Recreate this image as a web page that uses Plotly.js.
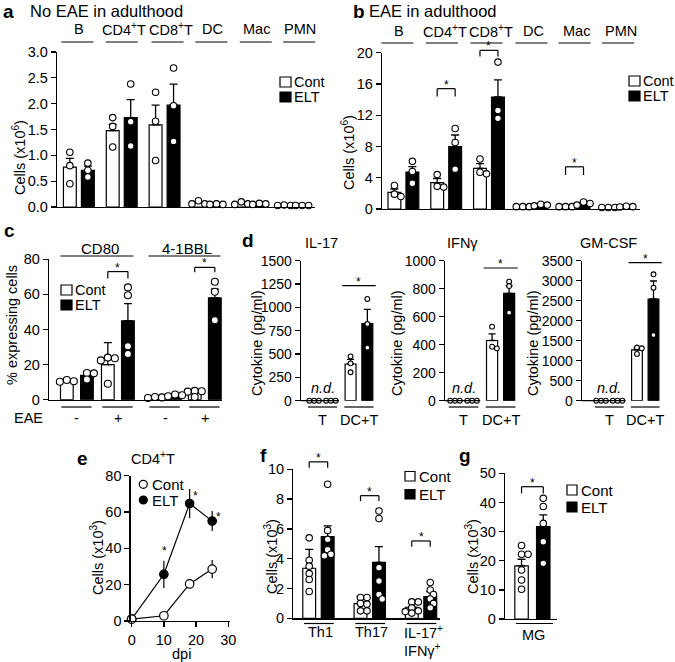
<!DOCTYPE html>
<html><head><meta charset="utf-8">
<script src="https://cdn.plot.ly/plotly-3.0.1.min.js"></script>
<style>html,body{margin:0;padding:0;background:#fff}#chart{width:675px;height:662px}</style>
</head><body><div id="chart"></div>
<script>
const W=675,H=662;
const FONT='"Liberation Sans", Arial, Helvetica, sans-serif';

// ================= DATA =================
// a: No EAE in adulthood (cells x10^6)
const aGroups=['B','CD4<sup>+</sup>T','CD8<sup>+</sup>T','DC','Mac','PMN'];
const aContMean=[0.77,1.48,1.59,0.08,0.07,0.03];
const aContSem=[0.17,0.12,0.38,0.02,0.015,0.005];
const aContPts=[[1.06,0.80,0.45],[1.73,1.56,1.16],[2.22,1.66,0.90],[0.12,0.06,0.06],[0.10,0.06,0.05],[0.03,0.04,0.03]];
const aEltMean=[0.71,1.73,1.97,0.05,0.06,0.03];
const aEltSem=[0.08,0.35,0.41,0.005,0.005,0.003];
const aEltPts=[[0.85,0.71,0.58],[2.38,1.65,1.18],[2.69,1.96,1.27],[0.06,0.05,0.05],[0.07,0.06,0.05],[0.03,0.03,0.03]];

// b: EAE in adulthood (cells x10^6)
const bGroups=['B','CD4<sup>+</sup>T','CD8<sup>+</sup>T','DC','Mac','PMN'];
const bContMean=[2.13,3.37,5.2,0.3,0.3,0.2];
const bContSem=[0.43,0.53,0.6,0.05,0.05,0.04];
const bContPts=[[3.0,1.9,1.6],[4.4,2.9,2.8],[6.4,4.7,4.5],[0.3,0.3,0.3],[0.3,0.3,0.3],[0.2,0.2,0.2]];
const bEltMean=[4.73,7.97,14.33,0.5,0.7,0.3];
const bEltSem=[0.7,1.5,2.2,0.07,0.1,0.05];
const bEltPts=[[6.1,4.8,3.3],[10.3,8.5,5.1],[18.8,12.6,11.6],[0.6,0.5,0.4],[0.9,0.7,0.5],[0.35,0.3,0.25]];

// c: % expressing cells
const cMarkers=['CD80','4-1BBL'];
const cEAE=['-','+','-','+'];
const cContMean=[10.6,20,1.3,4.0];
const cContSem=[0.4,12.5,0.3,0.6];
const cContPts=[[11.2,10.5,10.2],[24,23.6,22.4,9.1],[1.5,1.3,1.0],[5.0,4.6,4.8,1.5]];
const cEltMean=[13.9,45,2.5,58];
const cEltSem=[2.1,9.8,0.4,5];
const cEltPts=[[15.2,15.0,11.5],[64,59.5,30.5,26],[3.0,2.5,2.0],[67.2,61.5,45.3]];

// d: cytokines (pg/ml); groups T (n.d.) and DC+T
const dGroups=['T','DC+T'];
const dTitles=['IL-17','IFNγ','GM-CSF'];
const il17ContMean=[null,393], il17ContSem=[null,49], il17ContPts=[[0,0,0],[475,400,305]];
const il17EltMean=[null,827],  il17EltSem=[null,152], il17EltPts=[[0,0,0],[1090,822,568]];
const ifngContMean=[null,430], ifngContSem=[null,47], ifngContPts=[[0,0,0],[529,386,374]];
const ifngEltMean=[null,766],  ifngEltSem=[null,55],  ifngEltPts=[[0,0,0],[850,819,629]];
const gmcsfContMean=[null,1270], gmcsfContSem=[null,50],  gmcsfContPts=[[0,0,0],[1330,1310,1170]];
const gmcsfEltMean=[null,2543],  gmcsfEltSem=[null,450], gmcsfEltPts=[[0,0,0],[3160,2825,1643]];

// e: CD4+T time course (cells x10^3)
const eDays=[0,10,18,25];
const eCont=[1,2.9,20.4,28.6];
const eContErr=[0.5,0.8,1.0,5];
const eElt=[1,25.7,64.7,55];
const eEltErr=[0.5,7.5,8,5.5];

// f: Th subsets (cells x10^3)
const fGroups=['Th1','Th17','IL-17<sup>+</sup>'];
const fContMean=[3.36,0.98,0.74], fContSem=[1.27,0.47,0.26];
const fContPts=[[5.4,3.9,3.5,3.0,2.6,1.8],[1.4,1.4,1.0,0.95,0.5,0.5],[1.1,1.1,0.7,0.5,0.45,0.35]];
const fEltMean=[5.48,3.76,1.46], fEltSem=[0.72,1.05,0.33];
const fEltPts=[[9.0,5.9,5.3,4.6,4.3,4.2],[7.2,6.7,3.4,2.5,1.6,1.3],[2.4,1.9,1.6,1.3,1.0,0.7]];

// g: MG (cells x10^3)
const gGroups=['MG'];
const gContMean=[18.2], gContSem=[2.3], gContPts=[[25.2,22.2,22.2,16.8,13.4,10.2]];
const gEltMean=[31.7], gEltSem=[4.0], gEltPts=[[41.4,38.6,32.8,26.5,19.1]];

// ================= LAYOUT GEOMETRY =================
const PA={id:'',L:57,R:315,T:52,B:207,xr:[-0.51,5.51],yr:[0,3]};
const PB={id:'2',L:382,R:640,T:52.7,B:209,xr:[-0.5,5.53],yr:[0,20]};
const PC={id:'3',L:49,R:222,T:259.3,B:399.7,xr:[-0.68,3.54],yr:[0,80]};
const PD1={id:'4',L:301,R:379,T:260.7,B:400.7,xr:[-0.59,1.55],yr:[0,1500]};
const PD2={id:'5',L:445,R:521,T:260.7,B:400.7,xr:[-0.5,1.55],yr:[0,1000]};
const PD3={id:'6',L:582,R:665,T:260.7,B:400.7,xr:[-0.76,1.55],yr:[0,3500]};
const PE={id:'7',L:130.7,R:229.9,T:475.7,B:621,xr:[-0.3,30.5],yr:[0,80]};
const PF={id:'8',L:293.3,R:440,T:469.3,B:618.3,xr:[-0.49,2.37],yr:[0,10]};
const PG={id:'9',L:505,R:556.7,T:473.3,B:619,xr:[-0.53,0.47],yr:[0,50]};
// header label / line pixel shifts (layout only)
const aLabShift=[0,2,6.5,5.5,6.5,7], aLineShift=[-1.5,0,3,4,5.5,6];
const bLabShift=[-4.5,-1.5,2,2,2,3.5], bLineShift=[-6,-4.3,-2.5,-0.3,0,0.8];

const traces=[],shapes=[],annotations=[];
const layout={width:W,height:H,margin:{l:0,r:0,t:0,b:0},showlegend:false,barmode:'overlay',
  paper_bgcolor:'white',plot_bgcolor:'rgba(0,0,0,0)',font:{family:FONT,size:14,color:'black'},
  shapes,annotations};

function xp(P,v){return P.L+(v-P.xr[0])/(P.xr[1]-P.xr[0])*(P.R-P.L);}
function yp(P,v){return P.B-(v-P.yr[0])/(P.yr[1]-P.yr[0])*(P.B-P.T);}
function T(x,y,text,size,xanchor,extra){annotations.push(Object.assign({xref:'paper',yref:'paper',x:x/W,y:1-y/H,text:text,showarrow:false,
  xanchor:xanchor||'center',yanchor:'middle',borderpad:0,font:{family:FONT,size:size||14,color:'black'}},extra||{}));}
function L(x0,y0,x1,y1,w){shapes.push({type:'line',xref:'paper',yref:'paper',x0:x0/W,y0:1-y0/H,x1:x1/W,y1:1-y1/H,line:{color:'black',width:w||1.2}});}
function R(x0,y0,x1,y1,fill){shapes.push({type:'rect',xref:'paper',yref:'paper',x0:x0/W,y0:1-y0/H,x1:x1/W,y1:1-y1/H,fillcolor:fill,line:{color:'black',width:1.2}});}
function seq(a,b,s){const o=[];for(let v=a;v<=b+1e-9;v+=s)o.push(+v.toFixed(6));return o;}

function axes(P,o){
  const s=P.id;
  layout['xaxis'+s]={domain:[P.L/W,P.R/W],range:P.xr,anchor:'y'+s,showgrid:false,zeroline:false,
    showline:o.xline!==false,linecolor:'black',linewidth:1.3,ticks:o.xticks?'outside':'',ticklen:5,tickwidth:1.3,tickcolor:'black',
    showticklabels:!!o.xticks,tickmode:o.xticks?'array':'auto',tickvals:o.xticks,tickfont:{family:FONT,size:14.5,color:'black'},fixedrange:true};
  layout['yaxis'+s]={domain:[1-P.B/H,1-P.T/H],range:P.yr,anchor:'x'+s,showgrid:false,zeroline:false,showline:true,
    linecolor:'black',linewidth:1.3,ticks:'outside',ticklen:5,tickwidth:1.3,tickcolor:'black',tickmode:'array',
    tickvals:o.yticks,ticktext:o.ytext,tickfont:{family:FONT,size:o.tfs||14.5,color:'black'},fixedrange:true};
}

// beeswarm placement in pixel space (deterministic, from the values)
function swarm(P,vals,d){
  const ppuY=(P.B-P.T)/(P.yr[1]-P.yr[0]), ppuX=(P.R-P.L)/(P.xr[1]-P.xr[0]);
  const order=vals.map((v,i)=>i).sort((a,b)=>vals[b]-vals[a]);
  const out=vals.map(()=>0), placed=[];
  const cands=[0];for(let k=1;k<=10;k++){cands.push(k*d*0.5,-k*d*0.5);}
  order.forEach(i=>{
    const y=vals[i]*ppuY;
    for(const c of cands){
      if(placed.every(p=>Math.hypot(p.x-c,p.y-y)>=d*0.8)){out[i]=c/ppuX;placed.push({x:c,y:y});break;}
    }
  });
  return out;
}

function bars(P,pos,off,w,mean,sem,pts,fill,ms,cap){
  const s=P.id, xs=pos.map(v=>v+off);
  traces.push({type:'bar',x:xs,y:mean,width:w,xaxis:'x'+s,yaxis:'y'+s,hoverinfo:'skip',
    marker:{color:fill,line:{color:'black',width:1.2}},
    error_y:{type:'data',array:sem,arrayminus:sem.map(()=>0),symmetric:false,color:'black',thickness:1.3,width:cap||4}});
  const px=[],py=[];
  pts.forEach((arr,i)=>{const j=swarm(P,arr,ms);arr.forEach((v,k)=>{px.push(xs[i]+j[k]);py.push(v);});});
  traces.push({type:'scatter',mode:'markers',x:px,y:py,xaxis:'x'+s,yaxis:'y'+s,cliponaxis:false,hoverinfo:'skip',
    marker:{size:ms,color:'white',line:{color:'black',width:1.1}}});
}
function bracket(P,xa,xb,top,end){
  const x0=xp(P,xa),x1=xp(P,xb),yt=yp(P,top),ye=yp(P,end);
  L(x0,ye,x0,yt);L(x0,yt,x1,yt);L(x1,yt,x1,ye);
  T((x0+x1)/2,yt-4,'*',12);
}
function legendBoxes(x,y1,y2,size){
  R(x,y1-5,x+11,y1+5,'white');R(x,y2-5,x+11,y2+5,'black');
  T(x+13,y1,'Cont',size||14.5,'left');T(x+13,y2,'ELT',size||14.5,'left');
}

// ================= PANEL a =================
const aPos=aGroups.map((g,i)=>i);
axes(PA,{yticks:seq(0,3,0.5),ytext:seq(0,3,0.5).map(v=>v.toFixed(1))});
bars(PA,aPos,-0.21,0.3,aContMean,aContSem,aContPts,'white',6.5);
bars(PA,aPos,0.21,0.3,aEltMean,aEltSem,aEltPts,'black',6.5);
aGroups.forEach((g,i)=>{T(xp(PA,i)+aLabShift[i],29,g,14.5);L(xp(PA,i)+aLineShift[i]-16,42,xp(PA,i)+aLineShift[i]+16,42);});
T(2,11,'<b>a</b>',19,'left');T(29,11,'No EAE in adulthood',16.5,'left');
T(19,158,'Cells (x10<sup>6</sup>)',14.5,'center',{textangle:-90});
legendBoxes(280,82,97);

// ================= PANEL b =================
const bPos=bGroups.map((g,i)=>i);
axes(PB,{yticks:seq(0,20,4)});
bars(PB,bPos,-0.21,0.3,bContMean,bContSem,bContPts,'white',6.5);
bars(PB,bPos,0.21,0.3,bEltMean,bEltSem,bEltPts,'black',6.5);
bGroups.forEach((g,i)=>{T(xp(PB,i)+bLabShift[i],31,g,14.5);L(xp(PB,i)+bLineShift[i]-16,43,xp(PB,i)+bLineShift[i]+16,43);});
T(352,11,'<b>b</b>',19,'left');T(368,11,'EAE in adulthood',16.5,'left');
T(348,153,'Cells (x10<sup>6</sup>)',14.5,'center',{textangle:-90});
legendBoxes(629,81,96);
bracket(PB,1-0.21,1+0.21,15.4,14.4);
bracket(PB,2-0.21,2+0.21,20.3,19.5);
bracket(PB,4-0.21,4+0.21,5.4,4.35);

// ================= PANEL c =================
const cPos=[0,1,2.15,3.12];
axes(PC,{yticks:seq(0,80,20)});
bars(PC,cPos,-0.245,0.31,cContMean,cContSem,cContPts,'white',7);
bars(PC,cPos,0.245,0.31,cEltMean,cEltSem,cEltPts,'black',7);
cMarkers.forEach((m,k)=>{const a=cPos[2*k]-0.4,b=cPos[2*k+1]+0.38;L(xp(PC,a),256,xp(PC,b),256);T((xp(PC,a)+xp(PC,b))/2+3,248.5,m,15);});
cEAE.forEach((e,i)=>{L(xp(PC,cPos[i]-0.38),407,xp(PC,cPos[i]+0.36),407);T(xp(PC,cPos[i]),418,e,14.5);});
T(28,418,'EAE',14.5);
T(3,231,'<b>c</b>',19,'left');
T(12,325,'% expressing cells',14.5,'center',{textangle:-90});
legendBoxes(61,290,305);
bracket(PC,cPos[1]-0.245,cPos[1]+0.245,73,69);
bracket(PC,cPos[3]-0.245,cPos[3]+0.245,75.4,72.6);

// ================= PANEL d =================
const dPos=dGroups.map((g,i)=>i);
const dSets=[
  {P:PD1,cm:il17ContMean,cs:il17ContSem,cp:il17ContPts,em:il17EltMean,es:il17EltSem,ep:il17EltPts,ticks:seq(0,1500,250),sig:1232,ytx:257},
  {P:PD2,cm:ifngContMean,cs:ifngContSem,cp:ifngContPts,em:ifngEltMean,es:ifngEltSem,ep:ifngEltPts,ticks:seq(0,1000,200),sig:948,ytx:397},
  {P:PD3,cm:gmcsfContMean,cs:gmcsfContSem,cp:gmcsfContPts,em:gmcsfEltMean,es:gmcsfEltSem,ep:gmcsfEltPts,ticks:seq(0,3500,500),sig:3450,ytx:533}
];
dSets.forEach((d,k)=>{
  const P=d.P;
  axes(P,{xline:false,yticks:d.ticks,tfs:14});
  bars(P,dPos,-0.23,0.3,d.cm,d.cs,d.cp,'white',4.8,3.5);
  bars(P,dPos,0.23,0.3,d.em,d.es,d.ep,'black',4.8,3.5);
  L(P.L,P.B,xp(P,0.45),P.B,1.3);
  dGroups.forEach((g,i)=>{L(xp(P,i-0.4),407,xp(P,i+0.4),407);T(xp(P,i),420,g,14.5);});
  T(xp(P,0),388,'<i>n.d.</i>',14.5);
  const y=yp(P,d.sig);L(xp(P,1-0.46),y,xp(P,1+0.46),y);T(xp(P,1),y-4,'*',12);
  T(xp(P,0)-1,243,dTitles[k],14.5);
  T(d.ytx,343,'Cytokine (pg/ml)',14.5,'center',{textangle:-90});
});
T(248,240,'<b>d</b>',19,'center');

// ================= PANEL e =================
axes(PE,{xticks:[0,10,20,30],yticks:seq(0,80,20)});
traces.push({type:'scatter',mode:'lines+markers',x:eDays,y:eElt,xaxis:'x7',yaxis:'y7',cliponaxis:false,hoverinfo:'skip',
  line:{color:'black',width:1.2},marker:{size:8.5,color:'black',line:{color:'black',width:1.2}},
  error_y:{type:'data',array:eEltErr,color:'black',thickness:1.2,width:0}});
traces.push({type:'scatter',mode:'lines+markers',x:eDays,y:eCont,xaxis:'x7',yaxis:'y7',cliponaxis:false,hoverinfo:'skip',
  line:{color:'black',width:1.2},marker:{size:8.5,color:'white',line:{color:'black',width:1.2}},
  error_y:{type:'data',array:eContErr,color:'black',thickness:1.2,width:0}});
T(xp(PE,eDays[1])+1,yp(PE,eElt[1]+eEltErr[1])-10,'*',12);
T(xp(PE,eDays[2])+6,yp(PE,eElt[2]+eEltErr[2])+7,'*',12);
T(xp(PE,eDays[3])+6,yp(PE,eElt[3]+eEltErr[3])+6,'*',12);
T(82,458,'<b>e</b>',19,'center');
T(153,458,'CD4<sup>+</sup>T',14.5);
T(97,558,'Cells (x10<sup>3</sup>)',14.5,'center',{textangle:-90});
T(181,654,'dpi',14.5);
shapes.push({type:'circle',xref:'paper',yref:'paper',x0:139.3/W,x1:147.3/W,y0:1-488.3/H,y1:1-480.3/H,fillcolor:'white',line:{color:'black',width:1.2}});
shapes.push({type:'circle',xref:'paper',yref:'paper',x0:139.3/W,x1:147.3/W,y0:1-504/H,y1:1-496/H,fillcolor:'black',line:{color:'black',width:1.2}});
T(151,484,'Cont',15,'left');T(151,500,'ELT',15,'left');

// ================= PANEL f =================
const fPos=fGroups.map((g,i)=>i);
axes(PF,{yticks:seq(0,10,2)});
bars(PF,fPos,-0.18,0.25,fContMean,fContSem,fContPts,'white',6.5);
bars(PF,fPos,0.18,0.25,fEltMean,fEltSem,fEltPts,'black',6.5);
fGroups.forEach((g,i)=>{L(xp(PF,i-0.28),623.5,xp(PF,i+0.3),623.5);T(xp(PF,i)+2,632,g,14.5);});
T(xp(PF,2)+1,650,'IFNγ<sup>+</sup>',14.5);
bracket(PF,0-0.18,0+0.18,10.5,10.1);
bracket(PF,1-0.18,1+0.18,8.23,7.87);
bracket(PF,2-0.18,2+0.18,5.19,4.8);
T(263,455,'<b>f</b>',19,'center');
T(271,557,'Cells (x10<sup>3</sup>)',14.5,'center',{textangle:-90});
R(405,471.5,415,481,'white');R(405,489.5,415,499,'black');
T(418,476,'Cont',15,'left');T(418,494,'ELT',15,'left');

// ================= PANEL g =================
const gPos=gGroups.map((g,i)=>i);
axes(PG,{yticks:seq(0,50,10)});
bars(PG,gPos,-0.21,0.26,gContMean,gContSem,gContPts,'white',6.5);
bars(PG,gPos,0.21,0.26,gEltMean,gEltSem,gEltPts,'black',6.5);
gGroups.forEach((g,i)=>{L(xp(PG,i-0.32),623.5,xp(PG,i+0.4),623.5);T(xp(PG,i)+1,635,g,14.5);});
bracket(PG,-0.21,0.21,45.4,43.1);
T(465,455,'<b>g</b>',19,'center');
T(472,557,'Cells (x10<sup>3</sup>)',14.5,'center',{textangle:-90});
R(567,485,577,495,'white');R(567,502,577,512,'black');
T(580,490,'Cont',15,'left');T(580,507,'ELT',15,'left');

Plotly.newPlot('chart',traces,layout,{staticPlot:true,displayModeBar:false});
</script></body></html>
